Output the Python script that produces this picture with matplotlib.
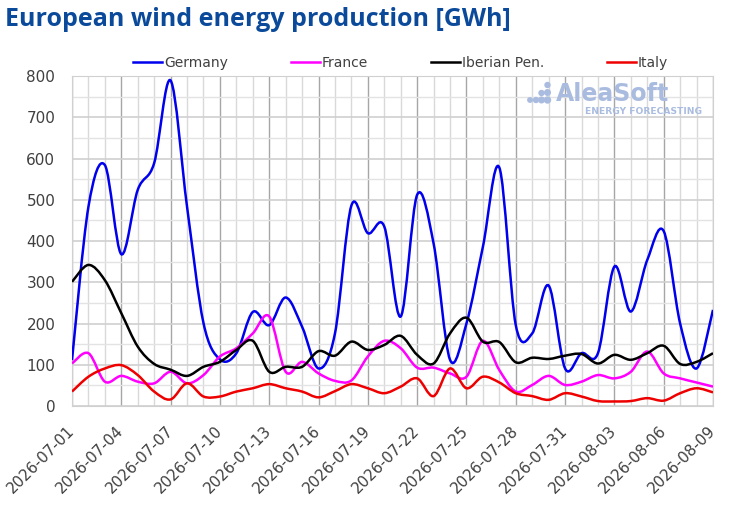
import numpy as np
import matplotlib
matplotlib.use("Agg")
import matplotlib.pyplot as plt
import matplotlib.dates as mdates
from matplotlib.path import Path
from matplotlib.patches import PathPatch, Ellipse
from matplotlib.lines import Line2D
import datetime as dt

dates = [dt.date(2026, 7, 1) + dt.timedelta(days=i) for i in range(40)]

germany = [111, 483, 584, 368, 524, 589, 789, 483, 201, 113, 128, 228, 196, 263, 192, 91,
           176, 486, 419, 435, 217, 512, 394, 112, 200, 386, 578, 196, 176, 292, 91, 128,
           128, 338, 229, 354, 424, 200, 91, 233]
france = [103, 128, 59, 73, 59, 55, 83, 55, 75, 120, 140, 176, 217, 83, 107, 79,
          61, 62, 120, 158, 140, 93, 93, 79, 71, 158, 87, 35, 51, 73, 51, 59,
          75, 67, 83, 132, 79, 67, 57, 47]
iberian = [301, 342, 305, 225, 144, 102, 88, 73, 95, 107, 136, 158, 83, 95, 95, 133,
           122, 156, 136, 148, 170, 124, 103, 176, 214, 156, 155, 106, 117, 114, 122, 126,
           103, 124, 112, 128, 146, 102, 107, 128]
italy = [35, 71, 91, 99, 75, 35, 16, 55, 23, 23, 35, 43, 53, 43, 35, 21,
         36, 53, 43, 31, 47, 67, 24, 91, 43, 71, 57, 31, 24, 15, 31, 23,
         12, 11, 12, 19, 13, 31, 43, 33]

series = [("Germany", germany, "#0000ee"), ("France", france, "#ff00ff"),
          ("Iberian Pen.", iberian, "#000000"), ("Italy", italy, "#ee0000")]

W, H = 730, 509
fig = plt.figure(figsize=(W / 100, H / 100), dpi=100)
ax = fig.add_axes([72 / W, 1 - 406 / H, (713 - 72) / W, (406 - 76) / H])

xs = mdates.date2num(dates)


def smooth_path(x, y):
    x = np.asarray(x, float)
    y = np.asarray(y, float)
    pts = np.column_stack([x, y])
    n = len(pts)
    verts = [pts[0]]
    codes = [Path.MOVETO]
    for i in range(n - 1):
        p0 = pts[i - 1] if i > 0 else pts[i]
        p1 = pts[i]
        p2 = pts[i + 1]
        p3 = pts[i + 2] if i + 2 < n else pts[i + 1]
        c1 = p1 + (p2 - p0) / 6.0
        c2 = p2 - (p3 - p1) / 6.0
        verts += [c1, c2, p2]
        codes += [Path.CURVE4] * 3
    return Path(verts, codes)


handles = []
for name, vals, col in series:
    patch = PathPatch(smooth_path(xs, vals), facecolor="none", edgecolor=col,
                      lw=1.8, zorder=3, transform=ax.transData)
    ax.add_patch(patch)
    handles.append(Line2D([], [], color=col, lw=1.8, label=name))

ax.set_xlim(xs[0], xs[-1])
ax.set_ylim(0, 800)
ax.set_yticks(range(0, 801, 100))
ax.set_yticks(range(0, 801, 50), minor=True)
ax.set_xticks(xs[::3])
ax.set_xticks(xs, minor=True)
ax.xaxis.set_major_formatter(mdates.DateFormatter("%Y-%m-%d"))

ax.grid(which="major", axis="x", color="#a6a6a6", lw=1.0, zorder=0)
ax.grid(which="minor", axis="x", color="#d9d9d9", lw=1.0, zorder=0)
ax.grid(which="major", axis="y", color="#d0d0d0", lw=1.2, zorder=0)
ax.grid(which="minor", axis="y", color="#e3e3e3", lw=1.0, zorder=0)
ax.set_axisbelow(True)
for s in ax.spines.values():
    s.set_color("#d0d0d0")
ax.tick_params(which="both", length=0)
ax.tick_params(axis="y", labelsize=11, labelcolor="#404040", pad=12)
ax.tick_params(axis="x", labelsize=11, labelcolor="#404040", pad=16)
for lab in ax.get_xticklabels():
    lab.set_rotation(45)
    lab.set_ha("right")
    lab.set_va("center")
    lab.set_rotation_mode("anchor")

fig.text(5 / W, 1 - 20 / H, "European wind energy production [GWh]", fontsize=18,
         fontweight="bold", color="#0b4a9a", ha="left", va="center", family="Open Sans")

leg = fig.legend(handles=handles, loc="center left", bbox_to_anchor=(133 / W, 1 - 63 / H),
                 ncol=4, frameon=False, fontsize=10, handlelength=2.1, handletextpad=0.15,
                 columnspacing=4.5, borderaxespad=0, borderpad=0)
for t in leg.get_texts():
    t.set_color("#404040")

# watermark logo
logo_col = "#a9bce0"
for (dx, dy, r) in [(530, 100, 2.2), (536, 100, 2.5), (541.5, 100, 2.8), (541.5, 93, 2.5),
                    (547.5, 100, 3.0), (547.5, 92.5, 2.8), (547.5, 85, 2.5)]:
    fig.patches.append(Ellipse((dx / W, 1 - dy / H), 2 * r / W, 2 * r / H,
                               transform=fig.transFigure, color=logo_col, zorder=5))
fig.text(556 / W, 1 - 94 / H, "AleaSoft", fontsize=17, fontweight="bold", color=logo_col,
         ha="left", va="center", family="DejaVu Sans")
fig.text(702 / W, 1 - 111 / H, "ENERGY FORECASTING", fontsize=6.6, fontweight="bold", color=logo_col,
         ha="right", va="center", family="DejaVu Sans")

fig.savefig("out.png", dpi=100)
